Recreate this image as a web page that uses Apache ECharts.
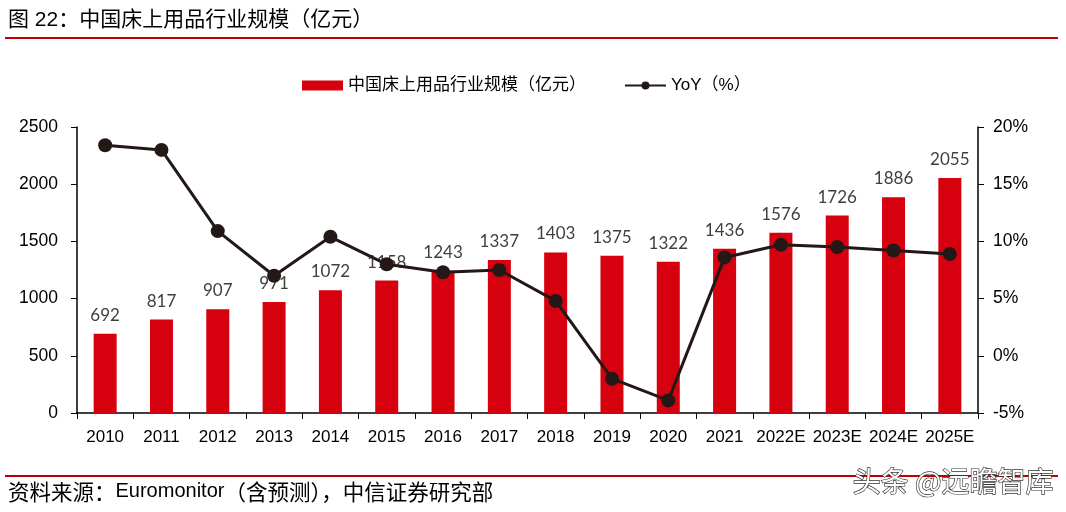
<!DOCTYPE html>
<html>
<head>
<meta charset="utf-8">
<script src="https://cdn.jsdelivr.net/npm/echarts@6/dist/echarts.min.js"></script>
<style>
html,body{margin:0;padding:0;background:#fff;}
#chart{width:1066px;height:512px;}
</style>
</head>
<body>
<div id="chart"></div>
<script>
const categories = ['2010','2011','2012','2013','2014','2015','2016','2017','2018','2019','2020','2021','2022E','2023E','2024E','2025E'];
const marketSize = [692, 817, 907, 971, 1072, 1158, 1243, 1337, 1403, 1375, 1322, 1436, 1576, 1726, 1886, 2055];
const yoy = [18.4, 18.0, 10.9, 7.0, 10.4, 8.0, 7.3, 7.5, 4.8, -2.0, -3.9, 8.6, 9.7, 9.5, 9.2, 8.9];
const leftTicks = { min: 0, max: 2500, interval: 500 };
const rightTicks = { min: -5, max: 20, interval: 5 };

const cjk = '"Liberation Sans", "Noto Sans CJK SC", sans-serif';
const chart = echarts.init(document.getElementById('chart'), null, {renderer: 'canvas'});
chart.setOption({
  animation: false,
  backgroundColor: '#ffffff',
  textStyle: { fontFamily: cjk },
  grid: { left: 77, right: 88, top: 127, bottom: 99, containLabel: false },
  legend: {
    top: 77, left: 302, padding: 0,
    itemWidth: 41, itemHeight: 10, itemGap: 38,
    textStyle: { fontSize: 17, color: '#000', fontFamily: cjk },
    data: [
      { name: '中国床上用品行业规模（亿元）', icon: 'rect' },
      { name: 'YoY（%）' }
    ]
  },
  xAxis: {
    type: 'category',
    data: categories,
    axisLine: { lineStyle: { color: '#000', width: 1.5 } },
    axisTick: { show: true, alignWithLabel: false, length: 6, lineStyle: { color: '#000' } },
    axisLabel: { color: '#000', fontSize: 17, margin: 16, fontFamily: cjk, interval: 0 }
  },
  yAxis: [
    {
      type: 'value', min: leftTicks.min, max: leftTicks.max, interval: leftTicks.interval,
      position: 'left',
      axisLine: { show: true, lineStyle: { color: '#000', width: 1.5 } },
      axisTick: { show: true, length: 6, lineStyle: { color: '#000' } },
      axisLabel: { color: '#000', fontSize: 17.5, margin: 19, fontFamily: cjk, formatter: function (v) { return String(v); } },
      splitLine: { show: false }
    },
    {
      type: 'value', min: rightTicks.min, max: rightTicks.max, interval: rightTicks.interval,
      position: 'right',
      axisLine: { show: true, lineStyle: { color: '#000', width: 1.5 } },
      axisTick: { show: true, length: 6, lineStyle: { color: '#000' } },
      axisLabel: { color: '#000', fontSize: 17.5, margin: 15, fontFamily: cjk, formatter: '{value}%' },
      splitLine: { show: false }
    }
  ],
  series: [
    {
      name: '中国床上用品行业规模（亿元）',
      type: 'bar',
      data: marketSize,
      barWidth: 23,
      itemStyle: { color: '#d7000f' },
      label: {
        show: true, position: 'top', distance: 10,
        color: '#404040', fontSize: 17, fontFamily: 'Lato, "Open Sans", sans-serif'
      },
      z: 2
    },
    {
      name: 'YoY（%）',
      type: 'line',
      yAxisIndex: 1,
      data: yoy,
      symbol: 'circle',
      symbolSize: 14,
      lineStyle: { color: '#231815', width: 3 },
      itemStyle: { color: '#231815' },
      z: 3
    }
  ],
  graphic: [
    { type: 'text', left: 8, top: 10, style: { text: '图 22：中国床上用品行业规模（亿元）', fill: '#000', font: '21px "Liberation Sans", "Noto Sans CJK SC", sans-serif' } },
    { type: 'rect', shape: { x: 5, y: 37, width: 1053, height: 2 }, style: { fill: '#c00000' } },
    { type: 'rect', shape: { x: 5, y: 475, width: 1053, height: 2 }, style: { fill: '#c00000' } },
    { type: 'text', left: 8, top: 481, style: {
        text: '{c|资料来源：}{l|Euromonitor}{c|（含预测），中信证券研究部}',
        fill: '#000',
        rich: {
          c: { fontSize: 21.5, fontFamily: '"Noto Sans CJK SC", sans-serif', fill: '#000' },
          l: { fontSize: 20, fontFamily: '"Liberation Sans", sans-serif', fill: '#000' }
        }
      } },
    { type: 'text', left: 852, top: 467, z: 100, style: { text: '头条 @远瞻智库', fill: '#ffffff', stroke: '#333333', lineWidth: 1.3, font: '28px "Noto Sans CJK SC", sans-serif' } }
  ]
});
</script>
</body>
</html>
